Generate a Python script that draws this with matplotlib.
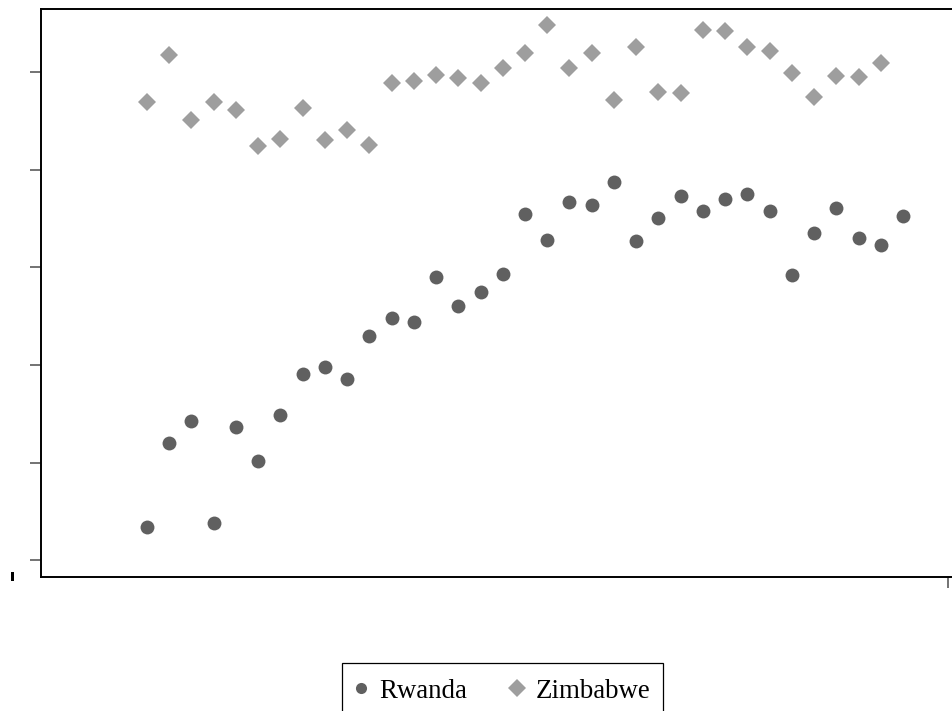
import matplotlib
matplotlib.use("Agg")
import matplotlib.pyplot as plt
from matplotlib.lines import Line2D
from matplotlib.patches import Rectangle

plt.rcParams['font.family'] = ['Liberation Serif', 'DejaVu Serif']

# Annual series
years_rwanda = list(range(1980, 2015))
years_zimbabwe = list(range(1980, 2014))

rwanda = [0.34, 1.20, 1.43, 0.38, 1.37, 1.02, 1.49, 1.91, 1.98, 1.86,
          2.30, 2.48, 2.44, 2.90, 2.60, 2.75, 2.93, 3.55, 3.28, 3.67,
          3.64, 3.87, 3.27, 3.51, 3.73, 3.58, 3.70, 3.75, 3.58, 2.92,
          3.35, 3.61, 3.30, 3.23, 3.53]

zimbabwe = [4.69, 5.17, 4.51, 4.69, 4.61, 4.24, 4.31, 4.63, 4.30, 4.41,
            4.25, 4.89, 4.91, 4.97, 4.94, 4.89, 5.04, 5.19, 5.48, 5.04,
            5.19, 4.71, 5.26, 4.80, 4.79, 5.43, 5.42, 5.26, 5.21, 4.99,
            4.74, 4.96, 4.95, 5.09]

y_ticks = [0, 1, 2, 3, 4, 5]
x_ticks = [2016]

W, H = 953, 711
fig = plt.figure(figsize=(W / 100, H / 100), dpi=100)
left_px, right_px, top_px, bottom_px = 41, 962, 9, 577
ax = fig.add_axes([left_px / W, 1 - bottom_px / H,
                   (right_px - left_px) / W, (bottom_px - top_px) / H])

c_rw = '#606060'
c_zw = '#9e9e9e'
ax.plot(years_rwanda, rwanda, linestyle='none', marker='o', markersize=10,
        color=c_rw, markeredgewidth=0, label='Rwanda')
ax.plot(years_zimbabwe, zimbabwe, linestyle='none', marker='D', markersize=9.6,
        color=c_zw, markeredgewidth=0, label='Zimbabwe')

ax.set_xlim(1975.235, 2016.65)
ax.set_ylim(-0.169, 5.645)
ax.set_yticks(y_ticks)
ax.set_yticklabels([])
ax.set_xticks(x_ticks)
ax.set_xticklabels([])
ax.tick_params(axis='both', direction='out', length=8, width=1.1, color='#4d4d4d')

for side in ['left', 'bottom', 'top']:
    ax.spines[side].set_linewidth(1.4)
    ax.spines[side].set_color('black')
ax.spines['right'].set_visible(False)

# small mark beside the lower-left corner
fig.patches.append(Rectangle((11.5 / W, 1 - 581 / H), 3 / W, 9 / H,
                             transform=fig.transFigure, facecolor='black',
                             edgecolor='none'))

# legend frame running off the bottom edge of the figure
fig.patches.append(Rectangle((342 / W, 1 - 725 / H), 321 / W, 62 / H,
                             transform=fig.transFigure, facecolor='white',
                             edgecolor='black', linewidth=0.9, zorder=3))

handles = [
    Line2D([], [], linestyle='none', marker='o', markersize=8, color=c_rw,
           markeredgewidth=0, label='Rwanda'),
    Line2D([], [], linestyle='none', marker='D', markersize=9, color=c_zw,
           markeredgewidth=0, label='Zimbabwe'),
]
leg = fig.legend(handles=handles, loc='center',
                 bbox_to_anchor=(501.5 / W, 1 - 691 / H),
                 ncol=2, fontsize=19.4, frameon=False,
                 handlelength=0.6, handletextpad=0.4, columnspacing=1.55,
                 borderpad=0.4, borderaxespad=0)
leg.set_zorder(4)

fig.savefig('out.png', dpi=100)
